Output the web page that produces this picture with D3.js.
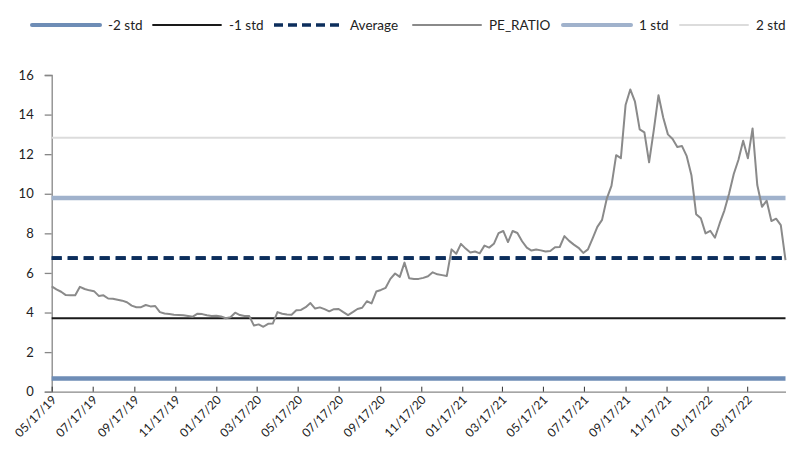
<!DOCTYPE html>
<html>
<head>
<meta charset="utf-8">
<script src="https://cdn.jsdelivr.net/npm/d3@7"></script>
<style>
    body { margin: 0; background: #fff; }
    svg { display: block; font-family: Lato, "Noto Sans", sans-serif; }
</style>
</head>
<body>
<svg id="chart" width="787" height="453"></svg>
<script>
// weekly PE ratio, first point 05/17/19
var startDate = "05/17/19";
var endDate = "05/13/22";
var peRatio = [
    5.32, 5.17, 5.05, 4.88, 4.87, 4.87, 5.30, 5.19, 5.12, 5.08,
    4.84, 4.87, 4.71, 4.70, 4.65, 4.60, 4.52, 4.35, 4.27, 4.27,
    4.38, 4.31, 4.33, 4.02, 3.95, 3.92, 3.89, 3.88, 3.86, 3.83,
    3.79, 3.94, 3.92, 3.86, 3.82, 3.84, 3.80, 3.71, 3.76, 3.99,
    3.87, 3.82, 3.82, 3.34, 3.40, 3.28, 3.43, 3.44, 4.02, 3.94,
    3.90, 3.89, 4.11, 4.13, 4.27, 4.48, 4.20, 4.26, 4.17, 4.06,
    4.17, 4.18, 4.02, 3.87, 4.02, 4.18, 4.24, 4.57, 4.46, 5.06,
    5.14, 5.25, 5.70, 5.97, 5.80, 6.52, 5.73, 5.69, 5.70, 5.75,
    5.83, 6.03, 5.93, 5.89, 5.85, 7.19, 6.97, 7.47, 7.23, 7.03,
    7.08, 6.99, 7.38, 7.28, 7.47, 8.01, 8.12, 7.56, 8.12, 8.02,
    7.60, 7.28, 7.13, 7.18, 7.14, 7.08, 7.11, 7.30, 7.31, 7.86,
    7.62, 7.43, 7.27, 7.01, 7.19, 7.75, 8.33, 8.68, 9.75, 10.40,
    11.95, 11.80, 14.48, 15.27, 14.65, 13.25, 13.10, 11.59, 13.22, 14.98,
    13.85, 13.00, 12.77, 12.36, 12.41, 11.90, 10.94, 8.97, 8.76, 8.00,
    8.13, 7.78, 8.50, 9.15, 10.00, 11.00, 11.72, 12.68, 11.79, 13.30,
    10.44, 9.34, 9.65, 8.62, 8.74, 8.42, 6.65
];

// -2 std, -1 std, average, 1 std, 2 std
var bandNames = ["-2 std", "-1 std", "Average", "1 std", "2 std"];
var bandValues = [0.67, 3.71, 6.75, 9.79, 12.83];

var yTicks = [0, 2, 4, 6, 8, 10, 12, 14, 16];
var xTickLabels = [
    "05/17/19", "07/17/19", "09/17/19", "11/17/19", "01/17/20", "03/17/20",
    "05/17/20", "07/17/20", "09/17/20", "11/17/20", "01/17/21", "03/17/21",
    "05/17/21", "07/17/21", "09/17/21", "11/17/21", "01/17/22", "03/17/22"
];

var legendOrder = ["-2 std", "-1 std", "Average", "PE_RATIO", "1 std", "2 std"];

var styles = {
    "-2 std":   { color: "#6e8db6", width: 4.5 },
    "-1 std":   { color: "#1a1a1a", width: 1.8 },
    "Average":  { color: "#0c2e5c", width: 3.6, dash: "10,6" },
    "PE_RATIO": { color: "#8a8a8a", width: 2 },
    "1 std":    { color: "#a0b2cc", width: 4.5 },
    "2 std":    { color: "#dcdcdc", width: 2 }
};

var parse = d3.timeParse("%m/%d/%y");
var fmt = d3.timeFormat("%m/%d/%y");
var t0 = parse(startDate);

var series = peRatio.map(function(v, i) {
    return { date: d3.timeDay.offset(t0, i * 7), value: v };
});

var svg = d3.select("#chart");

var x = d3.scaleTime()
    .domain([t0, parse(endDate)])
    .range([51.7, 785.5]);

var y = d3.scaleLinear()
    .domain([0, 16])
    .range([391.7, 75]);

// y axis
var yAxis = d3.axisLeft(y)
    .tickValues(yTicks)
    .tickSize(7)
    .tickPadding(11)
    .tickFormat(d3.format("d"));

var gy = svg.append("g")
    .attr("transform", "translate(" + x.range()[0] + ",0)")
    .call(yAxis);
gy.select(".domain").attr("stroke", "#878787").attr("stroke-width", 1.3);
gy.selectAll(".tick line").attr("stroke", "#878787").attr("stroke-width", 1.3);
gy.selectAll(".tick text")
    .attr("fill", "#222")
    .style("font-size", "13px")
    .style("font-family", "Lato, sans-serif");

// x axis
var xAxis = d3.axisBottom(x)
    .tickValues(xTickLabels.map(parse))
    .tickSizeInner(-5)
    .tickSizeOuter(0)
    .tickFormat(fmt);

var gx = svg.append("g")
    .attr("transform", "translate(0," + y(0) + ")")
    .call(xAxis);
gx.select(".domain").attr("stroke", "#878787").attr("stroke-width", 1.3);
gx.selectAll(".tick line").attr("stroke", "#333").attr("stroke-width", 1);
gx.selectAll(".tick text")
    .attr("fill", "#222")
    .attr("text-anchor", "end")
    .attr("dy", null)
    .attr("y", 0)
    .attr("transform", "translate(5,9) rotate(-45)")
    .style("font-size", "12px")
    .style("font-family", "Lato, sans-serif");

// std / average bands
var xEnds = x.domain();
var bandOrder = [4, 3, 1, 0, 2];
svg.append("g")
    .selectAll("line.band")
    .data(bandOrder)
    .enter().append("line")
    .attr("class", "band")
    .attr("x1", x(xEnds[0]))
    .attr("x2", x(xEnds[1]))
    .attr("y1", function(i) { return y(bandValues[i]); })
    .attr("y2", function(i) { return y(bandValues[i]); })
    .attr("stroke", function(i) { return styles[bandNames[i]].color; })
    .attr("stroke-width", function(i) { return styles[bandNames[i]].width; })
    .attr("stroke-dasharray", function(i) { return styles[bandNames[i]].dash || null; });

// PE line
var line = d3.line()
    .x(function(d) { return x(d.date); })
    .y(function(d) { return y(d.value); });

svg.append("path")
    .datum(series)
    .attr("fill", "none")
    .attr("stroke", styles["PE_RATIO"].color)
    .attr("stroke-width", styles["PE_RATIO"].width)
    .attr("stroke-linejoin", "round")
    .attr("d", line);

// dashed average drawn over the PE line
svg.append("line")
    .attr("x1", x(xEnds[0]))
    .attr("x2", x(xEnds[1]))
    .attr("y1", y(bandValues[2]))
    .attr("y2", y(bandValues[2]))
    .attr("stroke", styles["Average"].color)
    .attr("stroke-width", styles["Average"].width)
    .attr("stroke-dasharray", styles["Average"].dash);

// legend
var legendX = [32, 153, 274, 413, 563, 680];
var legend = svg.append("g")
    .selectAll("g.item")
    .data(legendOrder)
    .enter().append("g")
    .attr("class", "item")
    .attr("transform", function(d, i) { return "translate(" + legendX[i] + ",25)"; });

legend.append("line")
    .attr("x1", 0)
    .attr("x2", 68)
    .attr("stroke", function(d) { return styles[d].color; })
    .attr("stroke-width", function(d) { return Math.min(styles[d].width, 4); })
    .attr("stroke-linecap", function(d) { return styles[d].dash ? "butt" : "round"; })
    .attr("stroke-dasharray", function(d) { return styles[d].dash ? "9,5" : null; });

legend.append("text")
    .attr("x", 76)
    .attr("dy", "0.35em")
    .attr("fill", "#222")
    .style("font-size", "13.5px")
    .text(function(d) { return d; });
</script>
</body>
</html>
